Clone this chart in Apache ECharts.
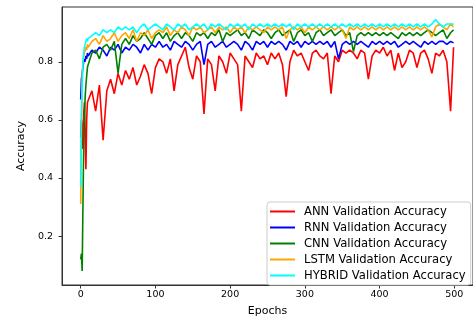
<!DOCTYPE html>
<html><head><meta charset="utf-8">
<script src="https://cdn.jsdelivr.net/npm/echarts@6/dist/echarts.min.js"></script>
<style>html,body{margin:0;padding:0;background:#fff}#c{width:473px;height:322px}</style>
</head><body><div id="c"></div>
<script>
const epochs = [0,1,2,3,4,5,6,7,8,9,
 10,15,20,25,30,35,40,45,50,55,
 60,65,70,75,80,85,90,95,100,105,
 110,115,120,125,130,135,140,145,150,155,
 160,165,170,175,180,185,190,195,200,205,
 210,215,220,225,230,235,240,245,250,255,
 260,265,270,275,280,285,290,295,300,305,
 310,315,320,325,330,335,340,345,350,355,
 360,365,370,375,380,385,390,395,400,405,
 410,415,420,425,430,435,440,445,450,455,
 460,465,470,475,480,485,490,495,499];
const ann = [0.54,0.60,0.58,0.50,0.62,0.66,0.52,0.43,0.60,0.66,
 0.66,0.70,0.63,0.72,0.53,0.70,0.74,0.69,0.76,0.72,
 0.77,0.74,0.78,0.72,0.75,0.79,0.76,0.69,0.78,0.81,
 0.80,0.76,0.81,0.70,0.79,0.82,0.85,0.78,0.74,0.82,
 0.80,0.62,0.81,0.79,0.70,0.82,0.80,0.76,0.83,0.81,
 0.79,0.63,0.82,0.80,0.78,0.83,0.81,0.82,0.79,0.83,
 0.81,0.83,0.79,0.68,0.80,0.84,0.82,0.83,0.80,0.77,
 0.83,0.84,0.82,0.81,0.83,0.69,0.82,0.80,0.84,0.83,
 0.84,0.83,0.81,0.84,0.83,0.74,0.82,0.84,0.83,0.85,
 0.82,0.84,0.77,0.83,0.78,0.80,0.84,0.83,0.78,0.83,
 0.84,0.81,0.76,0.83,0.82,0.84,0.80,0.63,0.85];
const rnn = [0.67,0.74,0.76,0.78,0.80,0.81,0.80,0.82,0.81,0.83,
 0.82,0.84,0.83,0.85,0.84,0.82,0.85,0.84,0.86,0.83,
 0.85,0.84,0.86,0.85,0.83,0.86,0.84,0.86,0.85,0.87,
 0.85,0.86,0.84,0.87,0.86,0.85,0.87,0.86,0.84,0.86,
 0.87,0.79,0.86,0.87,0.85,0.86,0.87,0.85,0.86,0.87,
 0.86,0.84,0.87,0.86,0.84,0.87,0.86,0.87,0.85,0.87,
 0.86,0.87,0.86,0.84,0.87,0.86,0.87,0.85,0.87,0.86,
 0.87,0.86,0.87,0.86,0.87,0.85,0.87,0.81,0.86,0.87,
 0.86,0.87,0.86,0.87,0.86,0.85,0.87,0.86,0.87,0.86,
 0.87,0.86,0.87,0.85,0.86,0.87,0.86,0.87,0.86,0.85,
 0.87,0.86,0.87,0.86,0.87,0.87,0.86,0.87,0.865];
const cnn = [0.12,0.14,0.08,0.30,0.50,0.60,0.68,0.72,0.75,0.78,
 0.79,0.83,0.84,0.81,0.85,0.86,0.84,0.87,0.76,0.86,
 0.88,0.86,0.89,0.87,0.88,0.90,0.88,0.86,0.89,0.90,
 0.88,0.90,0.87,0.89,0.90,0.88,0.90,0.89,0.87,0.90,
 0.89,0.90,0.88,0.90,0.89,0.91,0.87,0.90,0.89,0.90,
 0.91,0.89,0.90,0.88,0.91,0.90,0.89,0.91,0.90,0.88,
 0.90,0.91,0.89,0.90,0.91,0.87,0.90,0.91,0.89,0.90,
 0.87,0.90,0.91,0.89,0.90,0.91,0.89,0.90,0.91,0.89,
 0.90,0.835,0.89,0.90,0.89,0.90,0.89,0.90,0.89,0.90,
 0.89,0.90,0.89,0.88,0.90,0.89,0.90,0.89,0.90,0.89,
 0.90,0.91,0.90,0.89,0.90,0.91,0.88,0.90,0.91];
const lstm = [0.31,0.62,0.75,0.80,0.82,0.83,0.84,0.85,0.84,0.86,
 0.85,0.87,0.88,0.86,0.89,0.87,0.88,0.90,0.87,0.89,
 0.90,0.88,0.91,0.87,0.90,0.89,0.91,0.88,0.90,0.91,
 0.90,0.92,0.89,0.91,0.90,0.92,0.91,0.89,0.92,0.91,
 0.92,0.90,0.91,0.92,0.90,0.92,0.91,0.92,0.90,0.92,
 0.91,0.92,0.90,0.92,0.91,0.92,0.91,0.90,0.92,0.91,
 0.92,0.91,0.92,0.88,0.91,0.92,0.91,0.92,0.90,0.92,
 0.91,0.92,0.91,0.92,0.91,0.92,0.91,0.92,0.91,0.88,
 0.92,0.91,0.92,0.91,0.92,0.91,0.92,0.91,0.92,0.91,
 0.92,0.91,0.92,0.91,0.92,0.91,0.92,0.91,0.92,0.91,
 0.92,0.91,0.885,0.92,0.93,0.92,0.91,0.93,0.92];
const hybrid = [0.37,0.60,0.72,0.80,0.83,0.85,0.86,0.87,0.88,0.87,
 0.88,0.89,0.90,0.89,0.91,0.90,0.91,0.90,0.92,0.91,
 0.92,0.91,0.92,0.90,0.92,0.93,0.91,0.92,0.93,0.92,
 0.91,0.93,0.92,0.91,0.93,0.92,0.93,0.91,0.92,0.93,
 0.92,0.93,0.91,0.93,0.92,0.93,0.92,0.91,0.93,0.92,
 0.93,0.92,0.93,0.91,0.93,0.92,0.93,0.92,0.93,0.92,
 0.93,0.92,0.93,0.92,0.93,0.91,0.93,0.92,0.93,0.92,
 0.93,0.92,0.93,0.92,0.93,0.92,0.93,0.92,0.93,0.92,
 0.93,0.92,0.93,0.92,0.93,0.92,0.93,0.92,0.93,0.92,
 0.93,0.92,0.93,0.92,0.93,0.92,0.93,0.92,0.93,0.92,
 0.93,0.92,0.93,0.945,0.93,0.92,0.93,0.93,0.93];
const seriesNames = ['ANN Validation Accuracy','RNN Validation Accuracy','CNN Validation Accuracy','LSTM Validation Accuracy','HYBRID Validation Accuracy'];
const xTicks = [0,100,200,300,400,500];
const yTicks = [0.2,0.4,0.6,0.8];

const colors = ['#ff0000','#0000ff','#008000','#ffa500','#00ffff'];
const allData = [ann, rnn, cnn, lstm, hybrid];
const font = 'DejaVu Sans';
const chart = echarts.init(document.getElementById('c'), null, {renderer:'canvas'});
chart.setOption({
  animation:false,
  backgroundColor:'#fff',
  grid:{left:62, top:7, width:414, height:283, show:true, borderColor:'#333', borderWidth:1, backgroundColor:'transparent'},
  xAxis:{type:'value', min:-25, max:525,
    name:'Epochs', nameLocation:'middle', nameGap:21,
    nameTextStyle:{fontFamily:font, fontSize:11, color:'#000'},
    axisLine:{show:true, onZero:false, lineStyle:{color:'#333', width:1}},
    axisTick:{show:true, length:3.5, customValues:xTicks, lineStyle:{color:'#333'}},
    axisLabel:{customValues:xTicks, fontFamily:font, fontSize:9.5, color:'#000', margin:5},
    splitLine:{show:false}},
  yAxis:{type:'value', min:0.0315, max:0.9885,
    name:'Accuracy', nameLocation:'middle', nameGap:33,
    nameTextStyle:{fontFamily:font, fontSize:11, color:'#000'},
    axisLine:{show:true, onZero:false, lineStyle:{color:'#333', width:1}},
    axisTick:{show:true, length:3.5, customValues:yTicks, lineStyle:{color:'#333'}},
    axisLabel:{customValues:yTicks, fontFamily:font, fontSize:9.5, color:'#000', margin:9,
      formatter:v=>Number(v).toFixed(1)},
    splitLine:{show:false}},
  legend:{orient:'vertical', left:267, top:202, icon:'rect', itemWidth:25, itemHeight:2,
    itemGap:3, padding:[3,5,3,3],
    backgroundColor:'#fff', borderColor:'#ccc', borderWidth:1, borderRadius:3,
    textStyle:{fontFamily:font, fontSize:11.6, color:'#000', lineHeight:13, padding:[0,0,0,4]},
    data:seriesNames},
  series: allData.map((d,i)=>({
    name:seriesNames[i], type:'line', showSymbol:false, symbol:'none',
    data:epochs.map((e,j)=>[e,d[j]]),
    lineStyle:{color:colors[i], width:1.6}, itemStyle:{color:colors[i]},
    z:2+i
  }))
});
</script></body></html>
